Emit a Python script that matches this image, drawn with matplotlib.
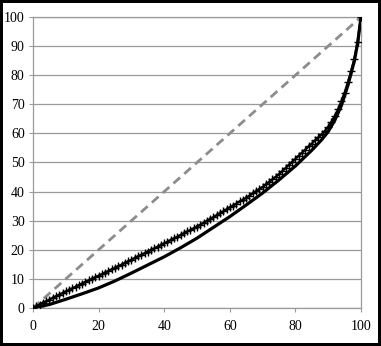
import matplotlib
matplotlib.use("Agg")
import matplotlib.pyplot as plt

# courbe du haut (avec marqueurs +), un point par pourcent
X_haut = list(range(0, 101))
Y_haut = [0.0, 0.6, 1.2, 1.8, 2.3, 2.9, 3.5, 4.0, 4.6, 5.1,
          5.7, 6.2, 6.8, 7.3, 7.9, 8.4, 9.0, 9.5, 10.0, 10.6,
          11.1, 11.6, 12.2, 12.7, 13.3, 13.8, 14.4, 14.9, 15.5, 16.0,
          16.6, 17.2, 17.7, 18.3, 18.8, 19.4, 20.0, 20.5, 21.1, 21.6,
          22.2, 22.8, 23.4, 23.9, 24.5, 25.1, 25.7, 26.3, 26.8, 27.4,
          28.0, 28.6, 29.3, 29.9, 30.6, 31.2, 31.9, 32.6, 33.2, 33.9,
          34.6, 35.2, 35.9, 36.6, 37.2, 37.9, 38.6, 39.4, 40.1, 40.9,
          41.6, 42.5, 43.3, 44.2, 45.1, 46.0, 47.0, 48.1, 49.2, 50.2,
          51.3, 52.3, 53.4, 54.4, 55.5, 56.5, 57.6, 58.6, 59.7, 60.8,
          62.3, 64.0, 66.0, 68.3, 71.0, 74.0, 77.5, 81.3, 85.7, 91.5,
          100.0]

# courbe du bas (trait plein)
X_bas = [0, 5, 10, 15, 20, 25, 30, 35, 40, 45, 50, 55, 60, 65, 70, 75, 80, 85, 88, 90, 92, 94, 96, 98, 99, 100]
Y_bas = [0, 1.2, 3.0, 4.9, 6.9, 9.3, 12.0, 14.8, 17.6, 20.7, 24.0, 27.7, 31.4, 35.4, 39.5, 44.0, 48.8, 54.2,
         57.8, 60.6, 64.5, 69.5, 76.5, 85.0, 91.2, 100]

# diagonale d'egalite
X_diag = [0, 100]
Y_diag = [0, 100]

gris = "#9a9a9a"

plt.rcParams['font.family'] = ['Liberation Serif', 'DejaVu Serif']

fig = plt.figure(figsize=(3.81, 3.46), dpi=100)
fig.patch.set_edgecolor("black")
fig.patch.set_linewidth(3)
ax = fig.add_axes([0.0866, 0.1098, 0.8609, 0.8411])

ax.plot(X_diag, Y_diag, color="#8c8c8c", linewidth=2.0, dashes=(3.2, 2.0), zorder=3)
ax.plot(X_bas, Y_bas, color="black", linewidth=2.3, zorder=4)
ax.plot(X_haut, Y_haut, color="black", linewidth=1.7, marker="+", markersize=6,
        markeredgewidth=1.0, zorder=5)

ax.set_xlim(0, 100)
ax.set_ylim(0, 100)
ax.set_xticks(range(0, 101, 20))
ax.set_yticks(range(0, 101, 10))

ax.grid(True, axis="y", color=gris, linewidth=0.9)
ax.set_axisbelow(True)
for s in ax.spines.values():
    s.set_color(gris)
    s.set_linewidth(0.9)

ax.tick_params(axis="both", direction="out", length=3, width=0.8, color=gris,
               labelsize=10, labelcolor="black")
ax.tick_params(axis="y", pad=3)
ax.tick_params(axis="x", pad=5.5)

fig.savefig("out.png", dpi=100, edgecolor="black")
